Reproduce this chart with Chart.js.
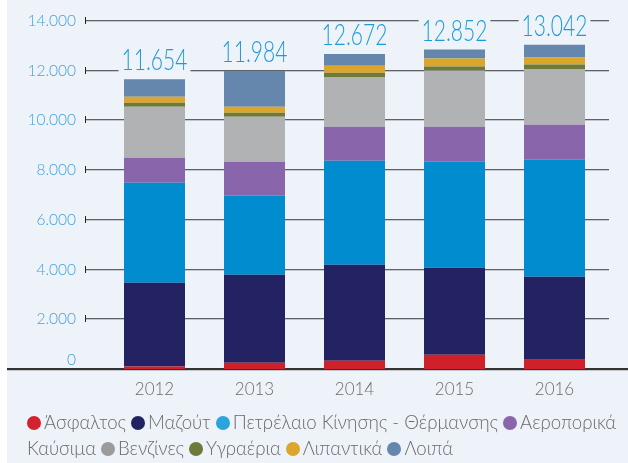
<!DOCTYPE html>
<html>
<head>
<meta charset="utf-8">
<script src="https://cdn.jsdelivr.net/npm/chart.js@4"></script>
<style>
    body { margin: 0; background: #fff; }
    #wrap { position: relative; width: 628px; height: 463px; overflow: hidden; }
    #panel { position: absolute; left: 7px; top: 0; width: 621px; height: 463px; background: #eef2f9; }
    #chart { position: absolute; left: 0; top: 0; }
    #legend {
        position: absolute; left: 27px; top: 409px; width: 601px;
        font: 300 18.6px Lato, sans-serif; color: #6a6a6a; line-height: 26px;
        white-space: normal;
    }
    #legend .dot {
        display: inline-block; width: 14px; height: 14px; border-radius: 50%;
        vertical-align: -1px; margin-right: 3px;
    }
</style>
</head>
<body>
<div id="wrap">
    <div id="panel"></div>
    <canvas id="chart" width="628" height="463"></canvas>
    <div id="legend"></div>
</div>
<script>
const years = ["2012", "2013", "2014", "2015", "2016"];
const totals = [11654, 11984, 12672, 12852, 13042];

const asphalt = [100, 250, 330, 570, 370];
const mazout = [3372, 3544, 3866, 3506, 3343];
const diesel = [4023, 3180, 4186, 4266, 4709];
const jetFuel = [1005, 1368, 1368, 1408, 1408];
const gasoline = [2053, 1810, 1972, 2254, 2214];
const lpg = [161, 161, 201, 161, 201];
const lubricants = [241, 240, 281, 322, 282];
const other = [699, 1431, 468, 365, 515];

const seriesLabels = [
    "Άσφαλτος",
    "Μαζούτ",
    "Πετρέλαιο Κίνησης - Θέρμανσης",
    "Αεροπορικά Καύσιμα",
    "Βενζίνες",
    "Υγραέρια",
    "Λιπαντικά",
    "Λοιπά",
];
const seriesData = [asphalt, mazout, diesel, jetFuel, gasoline, lpg, lubricants, other];
const barColors = ["#d0202a", "#232262", "#008ccf", "#8966ab", "#b1b2b4", "#6e7a3a", "#dba629", "#6587ae"];
const dotColors = ["#d42230", "#232262", "#2ba3dc", "#8966ab", "#9b9b9b", "#6e7a3a", "#dba629", "#6587ae"];

const numberFormatter = new Intl.NumberFormat("de-DE");

// Grid lines with the little tick at the left end, plus the base line
const gridPlugin = {
    id: "grid",
    beforeDatasetsDraw(chart) {
        const ctx = chart.ctx;
        const y = chart.scales.y;
        ctx.save();
        for (const tick of y.ticks) {
            if (tick.value === 0) continue;
            const py = Math.round(y.getPixelForValue(tick.value));
            ctx.fillStyle = "#c3c7cd";
            ctx.fillRect(85, py, 524, 1);
            ctx.fillStyle = "#5e6165";
            ctx.fillRect(85, py - 1, 524, 1);
            ctx.fillStyle = "#222";
            ctx.fillRect(85, py - 4, 1, 7);
        }
        const base = Math.round(y.getPixelForValue(0));
        ctx.fillStyle = "#c3c7cd";
        ctx.fillRect(7, base + 1, 621, 1);
        ctx.fillStyle = "#333";
        ctx.fillRect(7, base - 1, 621, 2);
        ctx.restore();
    },
};

// Totals above each bar (narrowed a bit to look like the condensed original face)
const totalsPlugin = {
    id: "totals",
    afterDatasetsDraw(chart) {
        const ctx = chart.ctx;
        const x = chart.scales.x;
        const y = chart.scales.y;
        const squeeze = 0.7;
        ctx.save();
        ctx.font = "300 30px Lato, sans-serif";
        ctx.textAlign = "center";
        ctx.textBaseline = "alphabetic";
        totals.forEach((total, i) => {
            const text = numberFormatter.format(total);
            const px = x.getPixelForValue(i);
            const py = y.getPixelForValue(total) - 9;
            const w = ctx.measureText(text).width * squeeze;
            ctx.fillStyle = "#eef2f9";
            ctx.fillRect(px - w / 2 - 3, py - 23, w + 6, 26);
            ctx.save();
            ctx.translate(px, py);
            ctx.scale(squeeze, 1);
            ctx.fillStyle = "#1e9bd7";
            ctx.fillText(text, 0, 0);
            ctx.restore();
        });
        ctx.restore();
    },
};

function buildLegend() {
    const legend = document.getElementById("legend");
    legend.innerHTML = seriesLabels
        .map((label, i) =>
            `<span class="dot" style="background:${dotColors[i]}"></span>${label}`
        )
        .join(" ");
}

function plotChart() {
    const data = {
        labels: years,
        datasets: seriesData.map((values, i) => ({
            label: seriesLabels[i],
            data: values,
            backgroundColor: barColors[i],
            borderWidth: 0,
            categoryPercentage: 1,
            barPercentage: 0.61,
        })),
    };
    const config = {
        type: "bar",
        data: data,
        options: {
            responsive: false,
            animation: false,
            layout: {
                padding: { left: 0, right: 23.5, top: 21, bottom: 64 },
            },
            plugins: {
                legend: { display: false },
                tooltip: { enabled: false },
            },
            scales: {
                x: {
                    stacked: true,
                    grid: { display: false, drawTicks: false },
                    border: { display: false },
                    ticks: {
                        color: "#6d6d6d",
                        font: { family: "Lato", size: 17, weight: 300 },
                        padding: 10,
                    },
                    afterFit(scale) {
                        scale.height = 30;
                        scale.paddingLeft = 0;
                        scale.paddingRight = 0;
                    },
                },
                y: {
                    stacked: true,
                    min: 0,
                    max: 14000,
                    grid: { display: false, drawTicks: false },
                    border: { display: false },
                    ticks: {
                        stepSize: 2000,
                        color: "#42a3db",
                        font: { family: "Lato", size: 15.5, weight: 300 },
                        padding: 28.5,
                        callback: (v) => (v === 0 ? ["0", ""] : numberFormatter.format(v)),
                    },
                    afterFit(scale) {
                        scale.width = 104.5;
                        scale.paddingTop = 0;
                        scale.paddingBottom = 0;
                    },
                },
            },
        },
        plugins: [gridPlugin, totalsPlugin],
    };
    const ctx = document.getElementById("chart").getContext("2d");
    new Chart(ctx, config);
}

buildLegend();
plotChart();
</script>
</body>
</html>
